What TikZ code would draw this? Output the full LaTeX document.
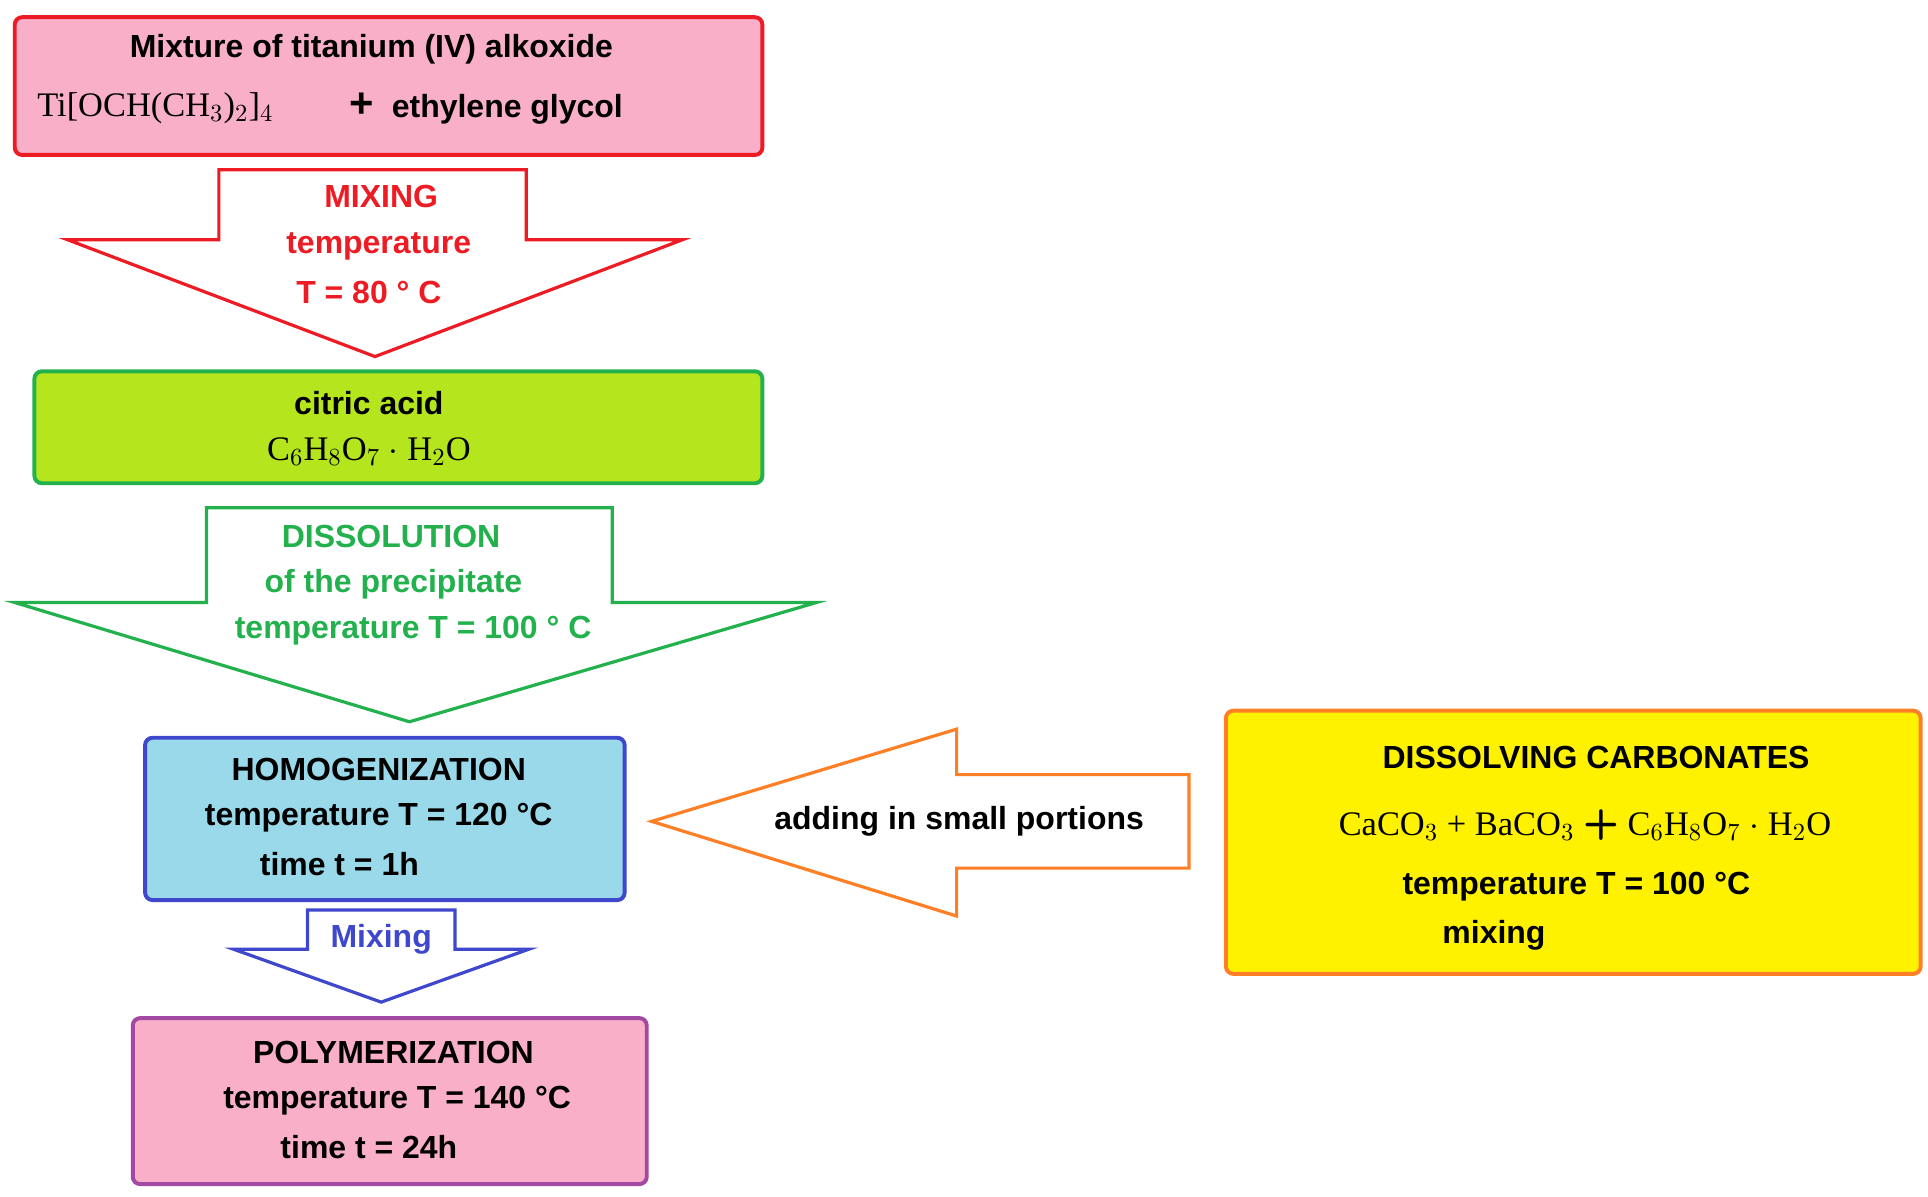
\documentclass[tikz,border=0pt]{standalone}
\usepackage{fontspec}
\setmainfont{Liberation Sans}
\newfontfamily\ser{Liberation Serif}
\definecolor{pinkf}{HTML}{F9AFC8}
\definecolor{redb}{HTML}{ED1C24}
\definecolor{limef}{HTML}{B5E61D}
\definecolor{greenb}{HTML}{22B14C}
\definecolor{bluef}{HTML}{99D9EA}
\definecolor{blueb}{HTML}{3F48CC}
\definecolor{purpb}{HTML}{A349A4}
\definecolor{yelf}{HTML}{FFF200}
\definecolor{orb}{HTML}{FF7F27}
\begin{document}
\begin{tikzpicture}[x=0.5pt,y=-0.5pt,
  box/.style={draw, line width=1.6pt, rounded corners=3pt},
  arr/.style={draw, line width=1.3pt, fill=white, line join=miter},
  t/.style={font=\fontsize{13}{15}\selectfont\bfseries, inner sep=0pt, anchor=center},
  f/.style={font=\fontsize{14}{16}\selectfont\ser, inner sep=0pt, anchor=center}]
\useasboundingbox (0,0) rectangle (1568,973);
% box 1
\path[box, draw=redb, fill=pinkf] (12,14) rectangle (620,126);
\node[t] (b1a) at (302,40) {Mixture of titanium (IV) alkoxide};
\node[f,anchor=west] (b1b) at (30,88) {Ti[OCH(CH$_3$)$_2$]$_4$};
\node[t,anchor=west] (b1c) at (284,88) {{\fontsize{17}{17}\selectfont +}\ \ ethylene glycol};
% arrow 1
\path[arr, draw=redb] (178,138) -- (428,138) -- (428,195) -- (555,195) -- (305,290) -- (55,195) -- (178,195) -- cycle;
\node[t, text=redb] (a1a) at (310,160) {MIXING};
\node[t, text=redb] (a1b) at (308,200) {temperature};
\node[t, text=redb] (a1c) at (300,238) {T = 80 ° C};
% box 2
\path[box, draw=greenb, fill=limef] (28,302) rectangle (620,393);
\node[t] (b2a) at (300,328) {citric acid};
\node[f] (b2b) at (300,367) {C$_6$H$_8$O$_7$ $\cdot$ H$_2$O};
% arrow 2
\path[arr, draw=greenb] (168,413) -- (498,413) -- (498,490) -- (664,490) -- (333,587) -- (12,490) -- (168,490) -- cycle;
\node[t, text=greenb] (a2a) at (318,436) {DISSOLUTION};
\node[t, text=greenb] (a2b) at (320,475) {of the precipitate};
\node[t, text=greenb] (a2c) at (336,513) {temperature T = 100 ° C};
% box 3
\path[box, draw=blueb, fill=bluef] (118,600) rectangle (508,732);
\node[t] (b3a) at (308,626) {HOMOGENIZATION};
\node[t] (b3b) at (308,665) {temperature T = 120 °C};
\node[t] (b3c) at (276,703) {time t = 1h};
% arrow 3
\path[arr, draw=blueb] (250,740) -- (370,740) -- (370,772) -- (430,772) -- (310,815) -- (190,772) -- (250,772) -- cycle;
\node[t, text=blueb] (a3) at (310,764) {Mixing};
% box 4
\path[box, draw=purpb, fill=pinkf] (108,828) rectangle (526,963);
\node[t] (b4a) at (320,856) {POLYMERIZATION};
\node[t] (b4b) at (323,895) {temperature T = 140 °C};
\node[t] (b4c) at (300,933) {time t = 24h};
% orange arrow
\path[arr, draw=orb] (530,668) -- (778,593) -- (778,630) -- (967,630) -- (967,706) -- (778,706) -- (778,745) -- cycle;
\node[t] (a4) at (780,668) {adding in small portions};
% yellow box
\path[box, draw=orb, fill=yelf] (997,578) rectangle (1562,792);
\node[t] (b5a) at (1298,616) {DISSOLVING CARBONATES};
\node[f] (b5b) at (1289,671) {CaCO$_3$ + BaCO$_3$ {\fontsize{17}{17}\selectfont\bfseries\sffamily +} C$_6$H$_8$O$_7$ $\cdot$ H$_2$O};
\node[t] (b5c) at (1282,721) {temperature T = 100 °C};
\node[t] (b5d) at (1215,761) {mixing};
\end{tikzpicture}
\end{document}
